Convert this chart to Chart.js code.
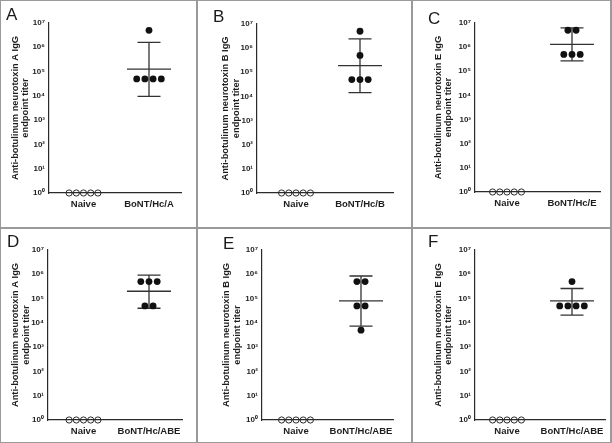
<!DOCTYPE html>
<html><head><meta charset="utf-8">
<script src="https://cdn.jsdelivr.net/npm/chart.js@4.4.1/dist/chart.umd.min.js"></script>
<style>
html,body{margin:0;padding:0;background:#fff;}
#fig{position:relative;width:612px;height:443px;overflow:hidden;background:#fff;}
.panel{position:absolute;}
.panel canvas{position:absolute;left:0;top:0;}
.letter{position:absolute;font-family:"Liberation Sans",Arial,sans-serif;font-size:17px;color:#1a1a1a;line-height:1;z-index:3;}
.line{position:absolute;background:#9a9a9a;z-index:4;}
</style></head><body><div id="fig"></div>
<script>
// ---------------- DATA ----------------
const panelLetters = ['A', 'B', 'C', 'D', 'E', 'F'];
const yAxisToxins = ['A', 'B', 'E', 'A', 'B', 'E'];
const groupNames = ['BoNT/Hc/A', 'BoNT/Hc/B', 'BoNT/Hc/E', 'BoNT/Hc/ABE', 'BoNT/Hc/ABE', 'BoNT/Hc/ABE'];
const naiveLabel = 'Naive';
const naiveTiters = [1, 1, 1, 1, 1];
const immunizedTitersA = [5e6, 5e4, 5e4, 5e4, 5e4];
const immunizedTitersB = [5e6, 5e5, 5e4, 5e4, 5e4];
const immunizedTitersC = [5e6, 5e6, 5e5, 5e5, 5e5];
const immunizedTitersD = [5e5, 5e5, 5e5, 5e4, 5e4];
const immunizedTitersE = [5e5, 5e5, 5e4, 5e4, 5e3];
const immunizedTitersF = [5e5, 5e4, 5e4, 5e4, 5e4];
const groupMeans = [1.25e5, 1.9e5, 1.3e6, 2.0e5, 8.0e4, 8.0e4];
const errUpper = [1.6e6, 2.4e6, 6.3e6, 9.3e5, 8.5e5, 2.6e5];
const errLower = [9.5e3, 1.45e4, 2.7e5, 4.0e4, 7.4e3, 2.1e4];
const yTickValues = [1, 10, 100, 1e3, 1e4, 1e5, 1e6, 1e7];
const yTickLabels = ['10\u2070', '10\u00B9', '10\u00B2', '10\u00B3', '10\u2074', '10\u2075', '10\u2076', '10\u2077'];
const immunizedTiters = [immunizedTitersA, immunizedTitersB, immunizedTitersC, immunizedTitersD, immunizedTitersE, immunizedTitersF];

// ---------------- LAYOUT (pixels) ----------------
const colLeft = [0, 197, 412], colW = [197, 215, 200];
const rowTop = [0, 227], rowH = [227, 216];
const geom = [
  {axisX: 49,  axisEnd: 181, topY: 23,  bottomY: 193, c1: 83.5, c2: 149, title1: 15,    letter: [6, 6]},
  {axisX: 257, axisEnd: 393, topY: 24,  bottomY: 193, c1: 296,  c2: 360, title1: 225.5, letter: [213, 8]},
  {axisX: 475, axisEnd: 600, topY: 23,  bottomY: 192, c1: 507,  c2: 572, title1: 438,   letter: [428, 10]},
  {axisX: 48,  axisEnd: 182, topY: 250, bottomY: 420, c1: 83.5, c2: 149, title1: 15.5,  letter: [7, 233]},
  {axisX: 262, axisEnd: 393, topY: 250, bottomY: 420, c1: 296,  c2: 361, title1: 226.5, letter: [223, 235]},
  {axisX: 475, axisEnd: 605, topY: 250, bottomY: 420, c1: 507,  c2: 572, title1: 438,   letter: [428, 233]}
];
const FONT = '"Liberation Sans", Arial, Helvetica, sans-serif';
const INK = '#1e1e1e';

function spread(values, center, stepUnits) {
  const groups = new Map();
  values.forEach(v => { if (!groups.has(v)) groups.set(v, 0); groups.set(v, groups.get(v) + 1); });
  const pts = [];
  groups.forEach((n, v) => { for (let i = 0; i < n; i++) pts.push({x: center + (i - (n - 1) / 2) * stepUnits, y: v}); });
  return pts;
}

const errorBarPlugin = {
  id: 'errorBars',
  beforeDatasetsDraw(chart, args, opts) {
    const {ctx, scales: {x, y}} = chart;
    const cx = x.getPixelForValue(opts.at);
    const ym = y.getPixelForValue(opts.mean), yu = y.getPixelForValue(opts.upper), yl = y.getPixelForValue(opts.lower);
    ctx.save();
    ctx.strokeStyle = '#333';
    ctx.lineWidth = 1.3;
    ctx.beginPath();
    ctx.moveTo(cx, yu); ctx.lineTo(cx, yl);
    ctx.moveTo(cx - opts.meanHalf, ym); ctx.lineTo(cx + opts.meanHalf, ym);
    ctx.moveTo(cx - opts.capHalf, yu); ctx.lineTo(cx + opts.capHalf, yu);
    ctx.moveTo(cx - opts.capHalf, yl); ctx.lineTo(cx + opts.capHalf, yl);
    ctx.stroke();
    ctx.restore();
  }
};

const fig = document.getElementById('fig');

for (let p = 0; p < 6; p++) {
  const col = p % 3, row = Math.floor(p / 3);
  const L = colLeft[col], T = rowTop[row], W = colW[col], H = rowH[row];
  const g = geom[p];
  const pxPerUnit = g.c2 - g.c1;
  const xMin = 1 - (g.c1 - g.axisX) / pxPerUnit;
  const xMax = 1 + (g.axisEnd - g.c1) / pxPerUnit;
  const categories = [naiveLabel, groupNames[p]];

  const div = document.createElement('div');
  div.className = 'panel';
  div.style.left = L + 'px'; div.style.top = T + 'px';
  div.style.width = W + 'px'; div.style.height = H + 'px';
  const cv = document.createElement('canvas');
  cv.width = W; cv.height = H;
  cv.style.width = W + 'px'; cv.style.height = H + 'px';
  div.appendChild(cv);
  fig.appendChild(div);

  const letter = document.createElement('div');
  letter.className = 'letter';
  letter.textContent = panelLetters[p];
  letter.style.left = g.letter[0] + 'px';
  letter.style.top = g.letter[1] + 'px';
  fig.appendChild(letter);

  const titleLH = 10.5;
  new Chart(cv, {
    type: 'scatter',
    data: {
      datasets: [
        {
          data: spread(naiveTiters, 1, 7.2 / pxPerUnit),
          pointStyle: 'circle', pointRadius: 3.1, pointBorderWidth: 1,
          pointBorderColor: '#2a2a2a', pointBackgroundColor: 'rgba(0,0,0,0)',
          clip: false
        },
        {
          data: spread(immunizedTiters[p], 2, 8.2 / pxPerUnit),
          pointStyle: 'circle', pointRadius: 3.4, pointBorderWidth: 0,
          pointBackgroundColor: '#111', pointBorderColor: '#111',
          clip: false
        }
      ]
    },
    options: {
      responsive: false,
      animation: false,
      events: [],
      layout: {padding: {left: 0, top: g.topY - T, right: (L + W) - g.axisEnd, bottom: 0}},
      plugins: {
        legend: {display: false},
        tooltip: {enabled: false},
        errorBars: {at: 2, mean: groupMeans[p], upper: errUpper[p], lower: errLower[p], meanHalf: 22, capHalf: 11.5}
      },
      scales: {
        x: {
          type: 'linear', min: xMin, max: xMax,
          grid: {display: false, drawTicks: false},
          border: {display: true, color: '#2a2a2a', width: 1.2},
          afterBuildTicks: s => { s.ticks = [{value: 1}, {value: 2}]; },
          afterFit: s => { s.height = (T + H) - g.bottomY; },
          ticks: {
            autoSkip: false, maxRotation: 0, padding: 6, color: INK,
            font: {family: FONT, size: 9.5, weight: 'bold'},
            callback: v => categories[v - 1]
          }
        },
        y: {
          type: 'logarithmic', min: 1, max: 1e7,
          grid: {display: false, drawTicks: true, tickLength: 3, color: '#2a2a2a'},
          border: {display: true, color: '#2a2a2a', width: 1.2},
          afterBuildTicks: s => { s.ticks = yTickValues.map(v => ({value: v})); },
          afterFit: s => { s.width = g.axisX - L; },
          ticks: {
            autoSkip: false, padding: 1, color: INK,
            font: {family: FONT, size: 8, weight: 'bold'},
            callback: v => yTickLabels[yTickValues.indexOf(v)]
          },
          title: {
            display: true,
            text: ['Anti-botulinum neurotoxin ' + yAxisToxins[p] + ' IgG', 'endpoint titer'],
            color: INK,
            font: {family: FONT, size: 9.3, weight: 'bold', lineHeight: titleLH / 9.3},
            padding: {top: g.title1 - L - titleLH / 2, bottom: 0}
          }
        }
      }
    },
    plugins: [errorBarPlugin]
  });
}

// panel frame lines
function addLine(x, y, w, h) {
  const d = document.createElement('div');
  d.className = 'line';
  d.style.left = x + 'px'; d.style.top = y + 'px'; d.style.width = w + 'px'; d.style.height = h + 'px';
  fig.appendChild(d);
}
addLine(0, 0, 612, 1);
addLine(0, 442, 612, 1);
addLine(0, 0, 1, 443);
addLine(610, 0, 2, 443);
addLine(196, 0, 2, 443);
addLine(411, 0, 2, 443);
addLine(0, 227, 612, 2);
</script>
</body></html>
